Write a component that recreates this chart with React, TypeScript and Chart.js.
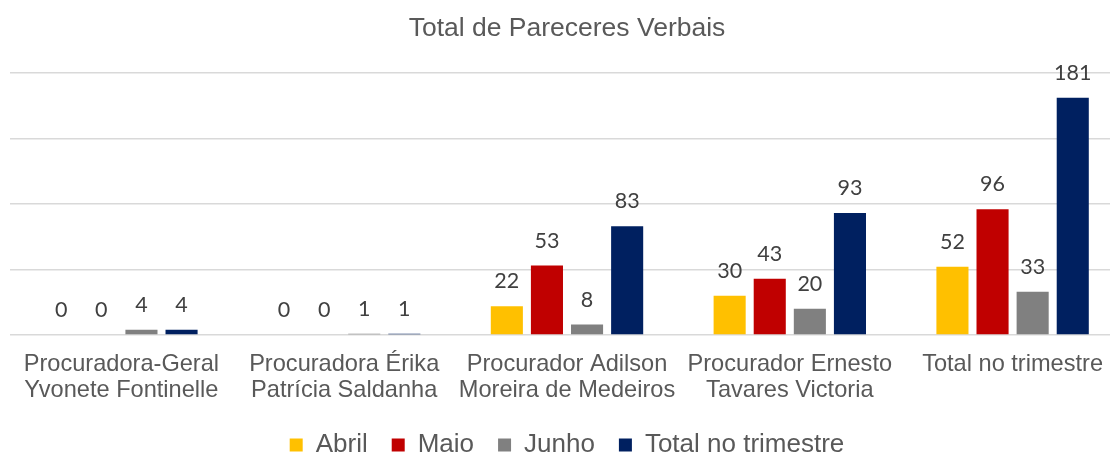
import React, { useEffect, useRef } from "react";
import { Chart, registerables } from "chart.js";

Chart.register(...registerables);

const categories: (string | string[])[] = [
  ["Procuradora-Geral", "Yvonete Fontinelle"],
  ["Procuradora Érika", "Patrícia Saldanha"],
  ["Procurador Adilson", "Moreira de Medeiros"],
  ["Procurador Ernesto", "Tavares Victoria"],
  "Total no trimestre",
];
const abril = [0, 0, 22, 30, 52];
const maio = [0, 0, 53, 43, 96];
const junho = [4, 1, 8, 20, 33];
const totalTrimestre = [4, 1, 83, 93, 181];
const seriesNames = ["Abril", "Maio", "Junho", "Total no trimestre"];
const seriesColors = ["#FFC000", "#C00000", "#808080", "#002060"];
const yTicks = [0, 50, 100, 150, 200];

const labelFont = "'Liberation Sans', Arial, sans-serif";

const dataLabels = {
  id: "dataLabels",
  afterDatasetsDraw(chart: any) {
    const ctx = chart.ctx;
    ctx.save();
    ctx.font = "21.5px Lato, 'Open Sans', sans-serif";
    ctx.fillStyle = "#404040";
    ctx.textAlign = "center";
    ctx.textBaseline = "alphabetic";
    chart.data.datasets.forEach((ds: any, i: number) => {
      const meta = chart.getDatasetMeta(i);
      meta.data.forEach((el: any, j: number) => {
        ctx.fillText(String(ds.data[j]), el.x, el.y - 18);
      });
    });
    ctx.restore();
  },
};

export default function App() {
  const ref = useRef<HTMLCanvasElement>(null);
  useEffect(() => {
    document.body.style.margin = "0";
    document.body.style.overflow = "hidden";
    document.documentElement.style.overflow = "hidden";
    const data = [abril, maio, junho, totalTrimestre];
    const chart = new Chart(ref.current!, {
      type: "bar",
      data: {
        labels: categories,
        datasets: data.map((d, i) => ({
          label: seriesNames[i],
          data: d,
          backgroundColor: seriesColors[i],
          categoryPercentage: 0.72,
          barPercentage: 0.8,
        })),
      },
      options: {
        animation: false,
        responsive: false,
        maintainAspectRatio: false,
        layout: { padding: { left: 10, right: 10, top: 0, bottom: 0 } },
        plugins: {
          title: {
            display: true,
            text: "Total de Pareceres Verbais",
            color: "#595959",
            font: { family: labelFont, size: 26.5, weight: "normal" },
            padding: { top: 13, bottom: 28 },
          },
          legend: {
            display: true,
            position: "bottom",
            labels: {
              boxWidth: 13,
              boxHeight: 13,
              padding: 24,
              color: "#595959",
              font: { family: labelFont, size: 26 },
            },
          },
          tooltip: { enabled: false },
        },
        scales: {
          x: {
            grid: { display: false },
            border: { display: false },
            afterFit: (axis: any) => {
              axis.height = 73;
            },
            ticks: {
              color: "#595959",
              font: { family: labelFont, size: 23.6, lineHeight: 1.1 },
              padding: 9,
              maxRotation: 0,
              autoSkip: false,
            },
          },
          y: {
            min: yTicks[0],
            max: yTicks[yTicks.length - 1],
            afterBuildTicks: (axis: any) => {
              axis.ticks = yTicks.map((v) => ({ value: v }));
            },
            ticks: { display: false },
            grid: { color: "#d9d9d9", lineWidth: 1.5, drawTicks: false },
            border: { display: false },
          },
        },
      },
      plugins: [dataLabels],
    });
    return () => chart.destroy();
  }, []);
  return (
    <div style={{ position: "absolute", left: 0, top: 0, width: 1134, height: 468 }}>
      <canvas ref={ref} width={1134} height={468} />
    </div>
  );
}
